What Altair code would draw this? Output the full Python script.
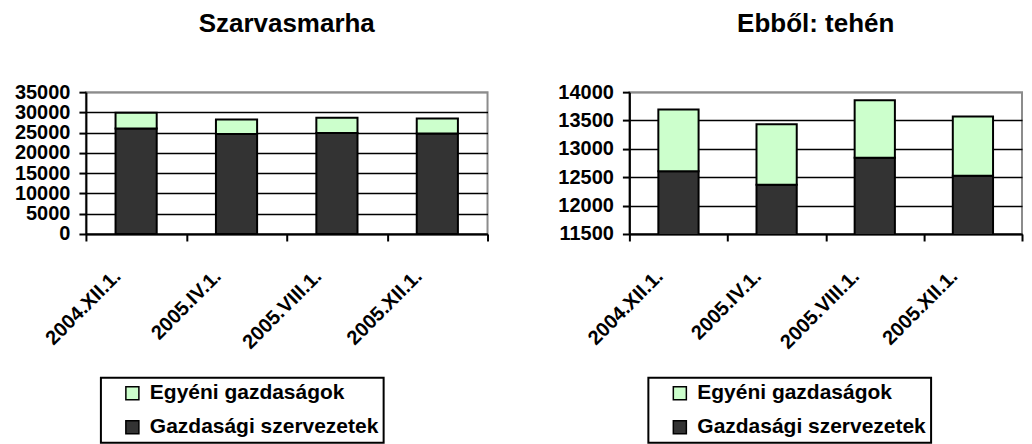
import altair as alt
import pandas as pd

categories = ["2004.XII.1.", "2005.IV.1.", "2005.VIII.1.", "2005.XII.1."]
series = ["Egyéni gazdaságok", "Gazdasági szervezetek"]
colors = ["#CCFFCC", "#333333"]

# Szarvasmarha
cattle_org = [26050, 24650, 24900, 24820]
cattle_ind = [3850, 3620, 3800, 3700]
cattle_ticks = [0, 5000, 10000, 15000, 20000, 25000, 30000, 35000]

# Ebből: tehén
cow_org = [12607, 12368, 12845, 12528]
cow_ind = [1087, 1066, 1011, 1043]
cow_ticks = [11500, 12000, 12500, 13000, 13500, 14000]

FONT = "Liberation Sans"


def frame(org, ind):
    rows = []
    for c, o, i in zip(categories, org, ind):
        rows.append({"cat": c, "series": series[1], "value": o, "ord": 1})
        rows.append({"cat": c, "series": series[0], "value": i, "ord": 2})
    return pd.DataFrame(rows)


def panel(df, title, ticks, w, h, title_dx, lx, ly):
    top = ticks[-1]
    return alt.Chart(
        df,
        title=alt.TitleParams(title, fontSize=26, font=FONT, fontWeight="bold",
                              offset=45, dx=title_dx, color="black"),
    ).mark_bar(
        width=alt.RelativeBandSize(0.41), stroke="black", strokeWidth=2, clip=True
    ).encode(
        x=alt.X("cat:N", sort=categories, title=None,
                scale=alt.Scale(paddingInner=0, paddingOuter=0),
                axis=alt.Axis(labelAngle=-45, tickBand="extent", grid=False,
                              labelAlign="right", labelBaseline="middle",
                              labelFontSize=20, labelPadding=32, labelOffset=-19)),
        y=alt.Y("value:Q", stack="zero", title=None,
                scale=alt.Scale(domain=[ticks[0], ticks[-1]], zero=False, nice=False),
                axis=alt.Axis(values=ticks, format="d", labelPadding=9,
                              labelFontSize=20,
                              labelOverlap=False, labelFlush=False,
                              gridColor={"condition": {"test": f"datum.value >= {top}",
                                                       "value": "#8c8c8c"},
                                         "value": "black"})),
        color=alt.Color("series:N",
                        scale=alt.Scale(domain=series, range=colors),
                        legend=alt.Legend(orient="none", legendX=lx, legendY=ly,
                                          title=None, strokeColor="black",
                                          padding=5, symbolType="square",
                                          symbolSize=170, symbolStrokeColor="black",
                                          symbolStrokeWidth=1.5, symbolOffset=16,
                                          labelFontSize=21, labelFont=FONT,
                                          labelFontWeight="bold", labelColor="black",
                                          labelLimit=400,
                                          rowPadding=12, labelOffset=7)),
        order=alt.Order("ord:Q"),
    ).properties(width=w, height=h)


left = panel(frame(cattle_org, cattle_ind), "Szarvasmarha", cattle_ticks, 402, 142, 0, 15, 286)
right = panel(frame(cow_org, cow_ind), "Ebből: tehén", cow_ticks, 393, 142, -10, 19, 286)

chart = alt.hconcat(left, right, spacing=67).resolve_scale(
    x="independent", y="independent", color="independent"
).resolve_legend(color="independent").properties(
    padding={"left": 5, "top": 2, "right": 0, "bottom": 0}
).configure_view(
    stroke="#8c8c8c", strokeWidth=2
).configure_axis(
    domainColor="black", domainWidth=2, tickColor="black", tickWidth=2, tickSize=7,
    labelFont=FONT, labelFontSize=21, labelFontWeight="bold", labelColor="black",
    gridWidth=1.5
).configure_legend(strokeWidth=2)

chart.save("out.html", embed_options={"renderer": "svg", "actions": False})
